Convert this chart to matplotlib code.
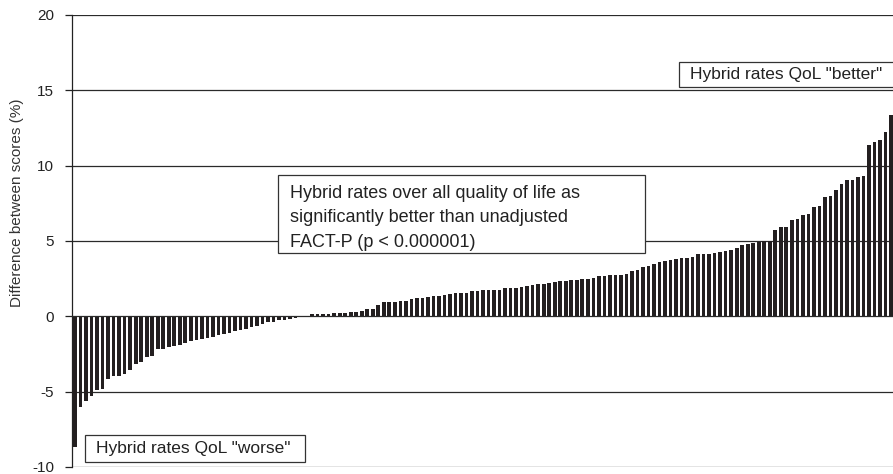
import matplotlib
matplotlib.use("Agg")
import matplotlib.pyplot as plt
from matplotlib.patches import Rectangle

plt.rcParams["font.family"] = ["Liberation Sans", "DejaVu Sans"]
plt.rcParams["axes.unicode_minus"] = False  # reference uses a plain hyphen

# sorted per-patient differences (hybrid minus unadjusted FACT-P), in %
worse_scores = [-8.65, -6.05, -5.6, -5.3, -4.9, -4.85, -4.15, -3.98, -3.95, -3.85,
                -3.55, -3.15, -3.0, -2.7, -2.6, -2.2, -2.15, -2.05, -2.0, -1.88,
                -1.77, -1.65, -1.55, -1.48, -1.42, -1.37, -1.26, -1.15, -1.08, -1.0,
                -0.93, -0.82, -0.72, -0.66, -0.5, -0.4, -0.35, -0.27, -0.22, -0.15,
                -0.1, -0.05, 0.0]
better_scores = [0.13, 0.13, 0.15, 0.18, 0.2, 0.2, 0.2, 0.29, 0.29, 0.34,
                 0.5, 0.51, 0.73, 0.96, 0.96, 0.97, 1.01, 1.05, 1.13, 1.22,
                 1.24, 1.28, 1.34, 1.35, 1.39, 1.46, 1.58, 1.58, 1.58, 1.71,
                 1.71, 1.78, 1.78, 1.78, 1.78, 1.88, 1.9, 1.9, 1.94, 2.03,
                 2.08, 2.15, 2.17, 2.21, 2.3, 2.32, 2.35, 2.39, 2.44,
                 2.46, 2.5, 2.57, 2.65, 2.68, 2.72, 2.72, 2.77, 2.83, 3.01,
                 3.1, 3.27, 3.34, 3.5, 3.61, 3.65, 3.72, 3.83, 3.89, 3.89,
                 3.94, 4.12, 4.12, 4.16, 4.23, 4.27, 4.34, 4.38, 4.56, 4.71,
                 4.82, 4.87, 4.93, 4.98, 5.0, 5.71, 5.93, 5.93, 6.37, 6.48,
                 6.7, 6.77, 7.26, 7.32, 7.92, 7.96, 8.41, 8.81, 9.03, 9.03,
                 9.25, 9.29, 11.35, 11.57, 11.68, 12.23, 13.34]
scores = worse_scores + better_scores

y_ticks = [-10, -5, 0, 5, 10, 15, 20]
y_label = "Difference between scores (%)"
note_worse = 'Hybrid rates QoL "worse"'
note_better = 'Hybrid rates QoL "better"'
note_main = ("Hybrid rates over all quality of life as\n"
             "significantly better than unadjusted\n"
             "FACT-P (p < 0.000001)")

W, H = 893, 474
fig = plt.figure(figsize=(W / 100, H / 100), dpi=100)
ax = fig.add_axes([72 / W, 7 / H, 1 - 72 / W, 452 / H])

x = range(len(scores))
ax.bar(x, scores, width=0.66, color="#231f20", zorder=3)

# horizontal reference lines at every tick
for t in y_ticks:
    ax.axhline(t, color="#2a2a2a", lw=0.9, zorder=2 if t else 4)

ax.set_ylim(-10, 20)
ax.set_xlim(-0.55, len(scores) - 0.65)
ax.set_yticks(y_ticks)
ax.set_xticks([])
ax.tick_params(axis="y", direction="out", length=5, width=0.9,
               labelsize=11, pad=8, colors="#222222")
for s in ["top", "right", "bottom"]:
    ax.spines[s].set_visible(False)
ax.spines["left"].set_color("#222222")
ax.spines["left"].set_linewidth(0.9)
ax.set_ylabel(y_label, fontsize=11, color="#333333")
ax.yaxis.set_label_coords((24 - 72) / (W - 72), 0.585)


def note_box(x0, y0, x1, y1, text, tx, ty, size=12.5, spacing=1.2):
    """Boxed annotation placed in figure pixels (top-left origin)."""
    tr = fig.transFigure
    ax.add_patch(Rectangle((x0 / W, 1 - y1 / H), (x1 - x0) / W, (y1 - y0) / H,
                           transform=tr, facecolor="white", edgecolor="#333333",
                           lw=0.9, zorder=6, clip_on=False))
    ax.text(tx / W, 1 - ty / H, text, transform=tr, ha="left", va="center",
            fontsize=size, color="#222222", linespacing=spacing, zorder=7)


note_box(85, 435, 305, 462, note_worse, 96, 449)
note_box(679, 62, 900, 87, note_better, 690, 75)
note_box(278, 175, 645, 253, note_main, 290, 218, size=13, spacing=1.6)

fig.savefig("out.png", dpi=100)
